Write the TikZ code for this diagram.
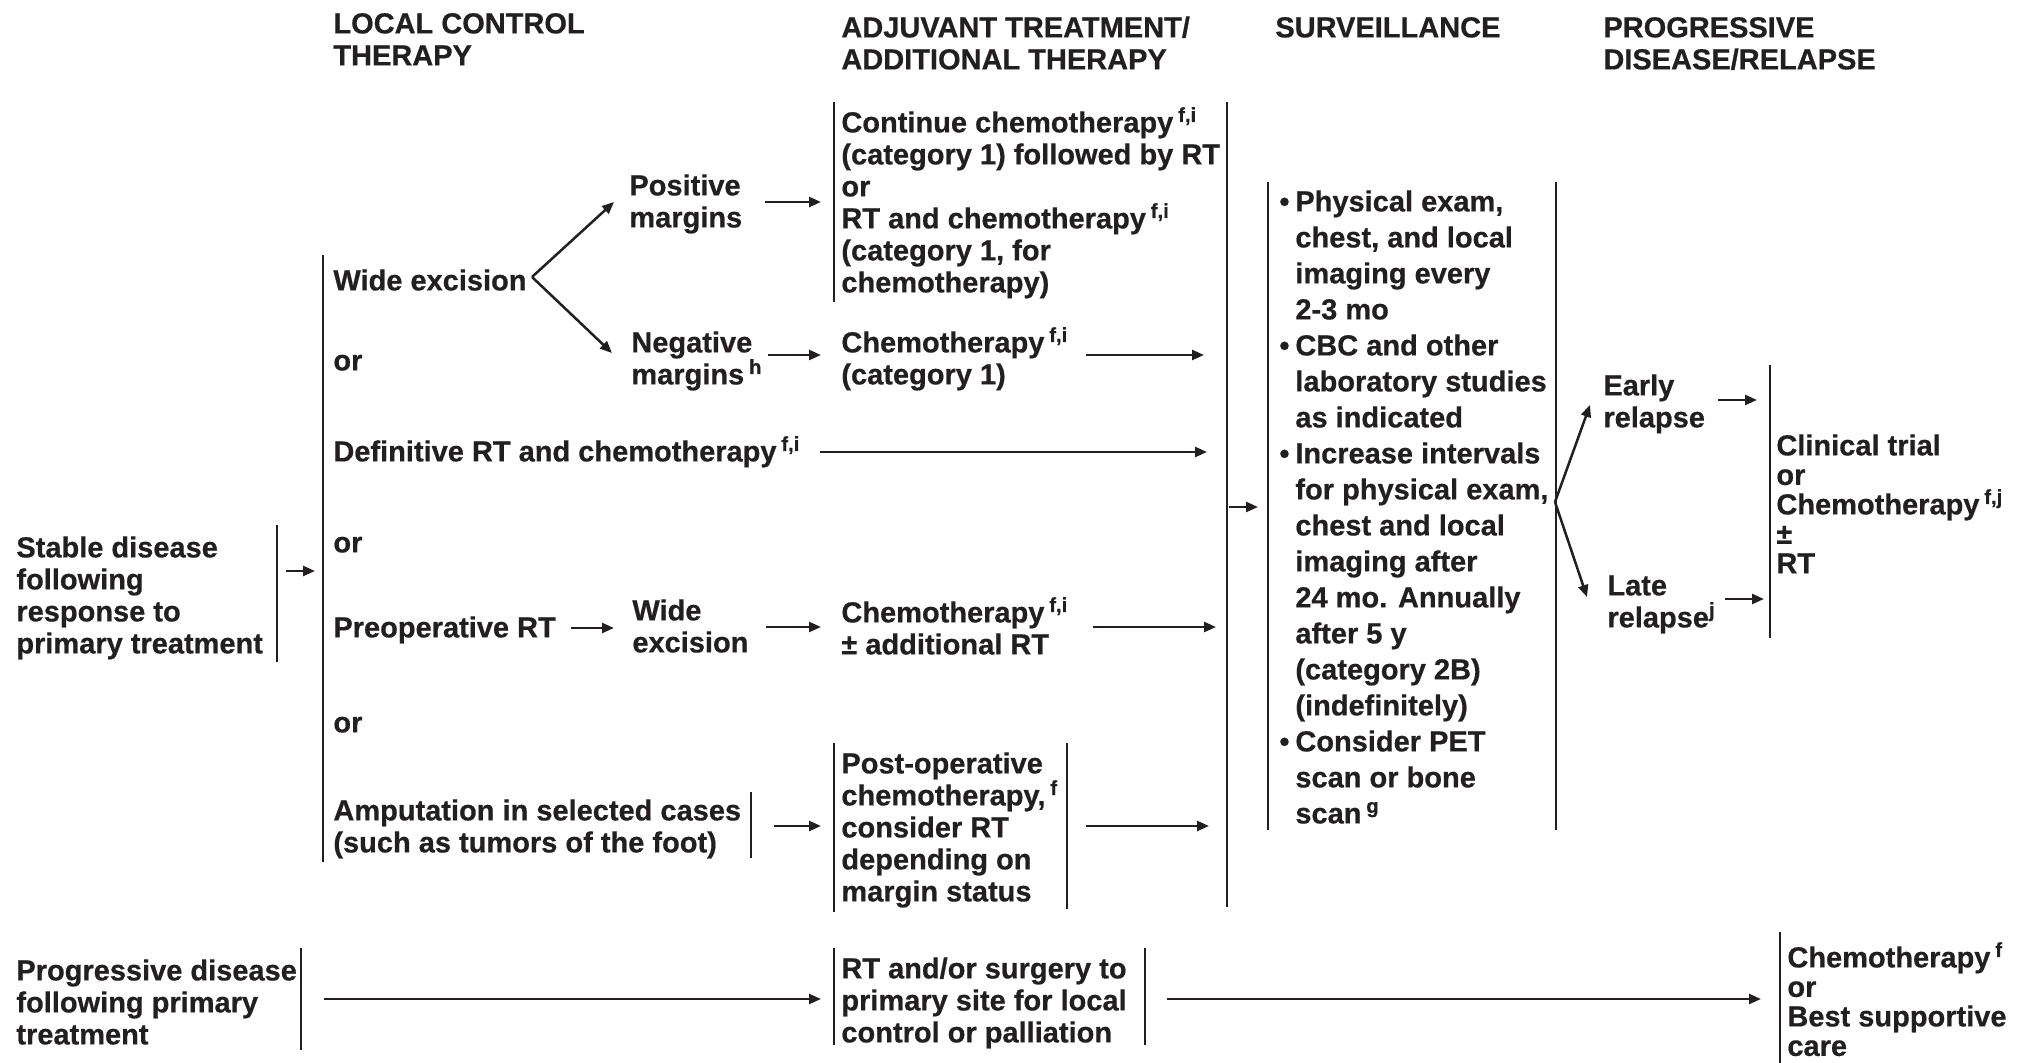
\documentclass[tikz,border=0pt]{standalone}
\usepackage{fontspec}
\setmainfont{Liberation Sans}[BoldFeatures={FakeBold=0.6}]
\usetikzlibrary{arrows.meta}
\definecolor{ink}{RGB}{35,31,32}
% footnote marks and helpers for the text blocks
\newcommand\sups[1]{\,\smash{\textsuperscript{#1}}}
\newcommand\tp{\rule{0pt}{11pt}}
\newcommand\blt{\makebox[8pt][l]{\textbullet}}
\newcommand\ind{\hspace*{8pt}}
\begin{document}
\begin{tikzpicture}[x=0.5pt,y=-0.5pt,
  lbl/.style={anchor=north west, inner sep=0pt, align=left, text=ink,
    font=\bfseries\fontsize{14.5}{16}\selectfont},
  tight/.style={font=\bfseries\fontsize{14.5}{14.75}\selectfont},
  loose/.style={font=\bfseries\fontsize{14.5}{18}\selectfont},
  bar/.style={draw=ink, line width=1.25pt},
  arr/.style={draw=ink, line width=1.25pt, -{Triangle[length=6pt,width=5pt]}}]
\useasboundingbox (0,0) rectangle (2020,1063);

% column headings
\node[lbl] (hlocal) at (333,11) {\tp LOCAL CONTROL\\THERAPY};
\node[lbl] (hadj) at (841,15) {\tp ADJUVANT TREATMENT/\\ADDITIONAL THERAPY};
\node[lbl] (hsurv) at (1275,15) {\tp SURVEILLANCE};
\node[lbl] (hprog) at (1603,15) {\tp PROGRESSIVE\\DISEASE/RELAPSE};

% starting situations
\node[lbl] (stable) at (16,535) {\tp Stable disease\\following\\response to\\primary treatment};
\node[lbl] (progd) at (16,958) {\tp Progressive disease\\following primary\\treatment};

% local control options
\node[lbl] (wide) at (333,268) {\tp Wide excision};
\node[lbl] (or1) at (333,348) {\tp or};
\node[lbl] (defrt) at (333,439) {\tp Definitive RT and chemotherapy\sups{f,i}};
\node[lbl] (or2) at (333,530) {\tp or};
\node[lbl] (preop) at (333,615) {\tp Preoperative RT};
\node[lbl] (or3) at (333,710) {\tp or};
\node[lbl] (amput) at (333,798) {\tp Amputation in selected cases\\(such as tumors of the foot)};
\node[lbl] (pos) at (629,173) {\tp Positive\\margins};
\node[lbl] (neg) at (631,330) {\tp Negative\\margins\sups{h}};
\node[lbl] (wide2) at (632,598) {\tp Wide\\excision};

% adjuvant / additional therapy
\node[lbl] (cont) at (841,110) {\tp Continue chemotherapy\sups{f,i}\\(category 1) followed by RT\\or\\RT and chemotherapy\sups{f,i}\\(category 1, for\\chemotherapy)};
\node[lbl] (chemoA) at (841,330) {\tp Chemotherapy\sups{f,i}\\(category 1)};
\node[lbl] (chemoB) at (841,600) {\tp Chemotherapy\sups{f,i}\\± additional RT};
\node[lbl] (postop) at (841,751) {\tp Post-operative\\chemotherapy,\sups{f}\\consider RT\\depending on\\margin status};
\node[lbl] (rtsurg) at (841,956) {\tp RT and/or surgery to\\primary site for local\\control or palliation};

% surveillance
\node[lbl,loose] (surv) at (1279,189) {\tp\blt Physical exam,\\\ind chest, and local\\\ind imaging every\\\ind 2-3 mo\\
\blt CBC and other\\\ind laboratory studies\\\ind as indicated\\
\blt Increase intervals\\\ind for physical exam,\\\ind chest and local\\\ind imaging after\\\ind 24 mo. Annually\\\ind after 5 y\\\ind (category 2B)\\\ind (indefinitely)\\
\blt Consider PET\\\ind scan or bone\\\ind scan\sups{g}};

% progressive disease / relapse
\node[lbl] (early) at (1603,373) {\tp Early\\relapse};
\node[lbl] (late) at (1607,573) {\tp Late\\relapse\smash{\textsuperscript{j}}};
\node[lbl,tight] (clin) at (1776,433) {\tp Clinical trial\\or\\Chemotherapy\sups{f,j}\\±\\RT};
\node[lbl,tight] (bsc) at (1787,945) {\tp Chemotherapy\sups{f}\\or\\Best supportive\\care};

% brackets
\draw[bar] (277,525) -- (277,662);
\draw[bar] (323,255) -- (323,862);
\draw[bar] (751,792) -- (751,858);
\draw[bar] (834,102) -- (834,302);
\draw[bar] (1227,102) -- (1227,907);
\draw[bar] (1268,182) -- (1268,830);
\draw[bar] (1556,182) -- (1556,830);
\draw[bar] (834,743) -- (834,912);
\draw[bar] (1067,743) -- (1067,909);
\draw[bar] (301,948) -- (301,1050);
\draw[bar] (834,948) -- (834,1045);
\draw[bar] (1145,948) -- (1145,1045);
\draw[bar] (1770,365) -- (1770,638);
\draw[bar] (1780,932) -- (1780,1063);

% connector end points
\coordinate (stOut) at (286,571);   \coordinate (stIn) at (315,571);
\coordinate (wxV) at (532,277);
\coordinate (posTip) at (614,202);  \coordinate (negTip) at (612,353);
\coordinate (posOut) at (765,202);  \coordinate (posIn) at (821,202);
\coordinate (negOut) at (768,355);  \coordinate (negIn) at (821,355);
\coordinate (caOut) at (1086,355);  \coordinate (caIn) at (1204,355);
\coordinate (dfOut) at (820,452);   \coordinate (dfIn) at (1207,452);
\coordinate (prOut) at (571,628);   \coordinate (prIn) at (614,628);
\coordinate (w2Out) at (766,627);   \coordinate (w2In) at (821,627);
\coordinate (cbOut) at (1093,627);  \coordinate (cbIn) at (1216,627);
\coordinate (amOut) at (774,826);   \coordinate (amIn) at (821,826);
\coordinate (poOut) at (1086,826);  \coordinate (poIn) at (1209,826);
\coordinate (colOut) at (1229,507); \coordinate (colIn) at (1258,507);
\coordinate (svV) at (1555,502);
\coordinate (earlyTip) at (1590,405); \coordinate (lateTip) at (1587,597);
\coordinate (eOut) at (1718,400);   \coordinate (eIn) at (1757,400);
\coordinate (lOut) at (1725,599);   \coordinate (lIn) at (1764,599);
\coordinate (pdOut) at (324,999);   \coordinate (pdIn) at (821,999);
\coordinate (rsOut) at (1167,999);  \coordinate (rsIn) at (1761,999);

% connectors
\draw[arr] (stOut) -- (stIn);
\draw[arr] (wxV) -- (posTip);
\draw[arr] (wxV) -- (negTip);
\draw[arr] (posOut) -- (posIn);
\draw[arr] (negOut) -- (negIn);
\draw[arr] (caOut) -- (caIn);
\draw[arr] (dfOut) -- (dfIn);
\draw[arr] (prOut) -- (prIn);
\draw[arr] (w2Out) -- (w2In);
\draw[arr] (cbOut) -- (cbIn);
\draw[arr] (amOut) -- (amIn);
\draw[arr] (poOut) -- (poIn);
\draw[arr] (colOut) -- (colIn);
\draw[arr] (svV) -- (earlyTip);
\draw[arr] (svV) -- (lateTip);
\draw[arr] (eOut) -- (eIn);
\draw[arr] (lOut) -- (lIn);
\draw[arr] (pdOut) -- (pdIn);
\draw[arr] (rsOut) -- (rsIn);
\end{tikzpicture}
\end{document}
